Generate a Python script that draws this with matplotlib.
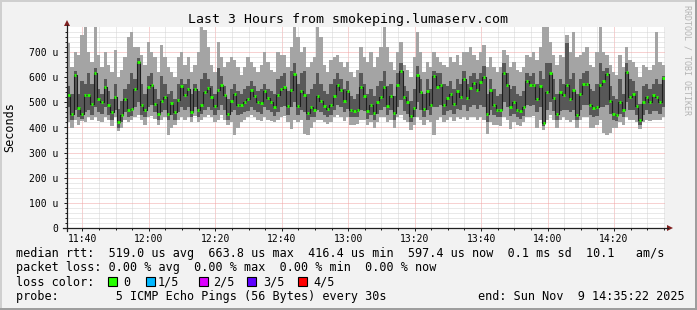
import numpy as np
import matplotlib.pyplot as plt
from matplotlib.lines import Line2D
from matplotlib.patches import Polygon, Rectangle

plt.rcParams['font.family'] = 'DejaVu Sans Mono'

# 180 samples, one per minute, from 11:35:22 to 14:35:22 (values in microseconds)
start_min = 11 * 60 + 35 + 22 / 60.0

rtt_median = [
    531, 452, 608, 478, 455, 530, 528, 493, 615, 513,
    500, 560, 489, 462, 522, 422, 449, 513, 470, 475,
    555, 660, 489, 470, 562, 571, 495, 455, 505, 522,
    455, 499, 460, 509, 565, 528, 555, 460, 552, 469,
    489, 540, 558, 520, 486, 550, 568, 528, 452, 507,
    535, 490, 490, 502, 515, 548, 525, 502, 499, 545,
    518, 502, 482, 530, 552, 560, 486, 548, 611, 486,
    545, 530, 456, 480, 470, 526, 505, 486, 473, 491,
    527, 570, 550, 504, 545, 470, 467, 470, 560, 525,
    465, 491, 456, 502, 522, 562, 485, 526, 458, 568,
    624, 520, 500, 447, 478, 608, 540, 473, 545, 489,
    605, 560, 571, 490, 518, 535, 495, 545, 520, 595,
    518, 558, 579, 548, 580, 600, 455, 548, 491, 469,
    469, 615, 570, 482, 500, 469, 465, 482, 584, 570,
    571, 515, 565, 416, 540, 615, 518, 455, 540, 530,
    568, 513, 548, 450, 535, 575, 575, 490, 478, 480,
    568, 584, 611, 505, 452, 449, 502, 469, 621, 520,
    535, 486, 429, 500, 522, 500, 530, 520, 500, 597,
]

# 2nd fastest ping
ping2 = [
    480, 430, 470, 440, 435, 460, 470, 450, 480, 460,
    455, 480, 450, 430, 470, 400, 420, 460, 440, 445,
    480, 500, 450, 440, 480, 490, 460, 430, 460, 470,
    430, 450, 430, 460, 480, 470, 480, 440, 480, 440,
    455, 470, 480, 470, 450, 470, 490, 470, 430, 460,
    470, 450, 455, 460, 465, 480, 470, 460, 455, 480,
    470, 460, 445, 460, 480, 485, 450, 480, 500, 450,
    470, 460, 430, 440, 440, 470, 460, 450, 440, 450,
    470, 490, 480, 460, 475, 440, 440, 440, 470, 465,
    435, 450, 430, 455, 470, 480, 450, 470, 430, 480,
    510, 465, 455, 420, 440, 500, 470, 440, 470, 450,
    480, 480, 490, 450, 465, 470, 455, 475, 470, 490,
    465, 480, 490, 475, 490, 480, 420, 470, 450, 440,
    440, 500, 480, 445, 455, 440, 435, 445, 490, 485,
    490, 460, 480, 405, 470, 500, 465, 430, 465, 470,
    470, 460, 470, 430, 470, 490, 490, 450, 440, 445,
    480, 480, 490, 455, 430, 425, 455, 440, 500, 470,
    470, 450, 410, 450, 470, 455, 465, 465, 455, 480,
]

# 4th ping
ping4 = [
    565, 535, 625, 535, 585, 575, 615, 575, 635, 555,
    535, 595, 545, 515, 575, 475, 505, 555, 575, 615,
    595, 675, 575, 535, 605, 615, 555, 515, 605, 575,
    535, 545, 515, 575, 595, 575, 595, 535, 575, 545,
    595, 615, 595, 565, 535, 635, 605, 565, 515, 555,
    575, 545, 535, 555, 565, 585, 565, 545, 555, 575,
    555, 545, 535, 595, 605, 615, 545, 625, 655, 575,
    615, 625, 535, 555, 575, 615, 575, 545, 535, 575,
    595, 615, 595, 555, 585, 525, 515, 535, 615, 575,
    535, 555, 525, 565, 585, 625, 565, 575, 525, 615,
    655, 565, 545, 505, 555, 645, 595, 535, 595, 555,
    625, 615, 615, 575, 565, 585, 555, 595, 575, 625,
    575, 605, 615, 595, 615, 645, 535, 595, 555, 525,
    535, 655, 615, 555, 565, 535, 525, 545, 615, 605,
    615, 575, 625, 595, 655, 655, 595, 535, 595, 575,
    735, 595, 615, 535, 595, 615, 625, 555, 545, 575,
    655, 625, 635, 565, 525, 515, 595, 535, 655, 595,
    585, 545, 495, 565, 575, 555, 575, 595, 575, 605,
]

# fastest ping
ping1 = [
    420, 400, 430, 410, 425, 420, 440, 430, 440, 425,
    420, 440, 430, 405, 440, 385, 400, 430, 420, 430,
    440, 450, 430, 410, 440, 445, 435, 410, 430, 440,
    370, 400, 410, 430, 440, 430, 440, 420, 445, 420,
    430, 440, 450, 440, 420, 430, 450, 430, 410, 420,
    370, 400, 420, 430, 440, 450, 440, 430, 425, 440,
    430, 425, 420, 430, 440, 445, 420, 395, 430, 420,
    430, 375, 370, 400, 420, 430, 430, 420, 415, 420,
    440, 450, 440, 425, 440, 410, 410, 415, 430, 430,
    410, 420, 400, 420, 440, 440, 420, 430, 400, 440,
    450, 430, 420, 390, 410, 440, 430, 410, 430, 420,
    370, 430, 440, 420, 430, 440, 425, 440, 435, 440,
    430, 440, 440, 430, 440, 430, 375, 420, 410, 410,
    405, 440, 430, 395, 420, 410, 405, 420, 440, 440,
    445, 400, 430, 390, 430, 450, 430, 400, 430, 440,
    430, 420, 430, 400, 430, 440, 440, 400, 400, 410,
    430, 380, 370, 380, 400, 400, 420, 410, 440, 430,
    430, 420, 395, 420, 430, 425, 430, 430, 430, 440,
]

# slowest ping
ping5 = [
    735, 640, 700, 690, 770, 800, 700, 660, 800, 690,
    640, 700, 650, 620, 710, 600, 630, 680, 760, 780,
    720, 720, 690, 650, 740, 700, 680, 620, 730, 680,
    640, 620, 600, 680, 700, 650, 680, 620, 650, 700,
    800, 790, 720, 650, 620, 740, 680, 640, 660, 680,
    670, 640, 610, 640, 680, 660, 640, 620, 650, 700,
    660, 630, 620, 700, 690, 690, 640, 720, 800, 760,
    700, 720, 640, 660, 680, 800, 760, 650, 620, 670,
    680, 690, 660, 640, 660, 620, 600, 630, 720, 680,
    660, 700, 640, 680, 720, 800, 720, 660, 630, 700,
    740, 650, 630, 600, 680, 780, 700, 620, 660, 640,
    700, 680, 660, 650, 640, 680, 660, 690, 650, 700,
    700, 720, 690, 670, 700, 730, 640, 680, 640, 620,
    640, 710, 690, 640, 660, 630, 620, 640, 690, 680,
    700, 670, 720, 800, 800, 740, 690, 650, 690, 680,
    770, 700, 780, 680, 690, 700, 720, 650, 640, 700,
    800, 700, 690, 650, 620, 610, 690, 640, 720, 670,
    660, 640, 600, 650, 640, 630, 650, 780, 660, 650,
]

x_ticks = [700, 720, 740, 760, 780, 800, 820, 840, 860]
x_labels = ['11:40', '12:00', '12:20', '12:40', '13:00', '13:20', '13:40', '14:00', '14:20']
y_ticks = [0, 100, 200, 300, 400, 500, 600, 700]
y_labels = ['0', '100 u', '200 u', '300 u', '400 u', '500 u', '600 u', '700 u']

loss_labels = ['0', '1/5', '2/5', '3/5', '4/5']
loss_colors = ['#26ff00', '#00b8ff', '#dd00ff', '#5e00ff', '#ff0000']

W, H = 697, 310


def P(x, y):
    return x / W, 1 - y / H


def fig_line(x0, y0, x1, y1, color, lw):
    a, b = P(x0, y0)
    c, d = P(x1, y1)
    fig.add_artist(Line2D([a, c], [b, d], color=color, lw=lw, transform=fig.transFigure))


fig = plt.figure(figsize=(W / 100, H / 100), dpi=100, facecolor='#f2f2f2')
ax = fig.add_axes([67 / W, 1 - 228 / H, 598 / W, 201 / H])
ax.set_facecolor('white')
for s in ax.spines.values():
    s.set_visible(False)

n = len(rtt_median)
edges = start_min + np.arange(n + 1)


def ext(v):
    return np.append(v, v[-1])


ax.fill_between(edges, ext(ping1), ext(ping5), step='post', color='#a4a4a4', lw=0, zorder=2)
ax.fill_between(edges, ext(ping2), ext(ping4), step='post', color='#585858', lw=0, zorder=3)
ax.step(edges, ext(rtt_median), where='post', color='#1e1e1e', lw=0.8, zorder=4)
ax.hlines(rtt_median, edges[:-1] + 0.15, edges[1:] - 0.15, color=loss_colors[0], lw=2.0, zorder=5)

ax.set_xlim(edges[0], edges[-1])
ax.set_ylim(0, 800)
ax.set_xticks(x_ticks)
ax.set_xticklabels(x_labels)
ax.set_xticks(np.arange(700, 876, 5), minor=True)
ax.set_yticks(y_ticks)
ax.set_yticklabels(y_labels)
ax.set_yticks(np.arange(0, 800, 20), minor=True)

ax.set_axisbelow(True)
ax.grid(which='minor', color='#d4d4d4', ls=(0, (1, 1)), lw=0.72)
ax.grid(which='major', color='#f0a4a4', ls=(0, (1, 1)), lw=0.72)
ax.tick_params(which='both', direction='out', color='#1f1f1f', width=0.72, labelsize=7)
ax.tick_params(which='major', length=2.5)
ax.tick_params(which='minor', length=1.5)
ax.tick_params(axis='x', which='major', pad=2)
ax.tick_params(axis='y', which='major', pad=3.5)

# axes with arrows
fig_line(67, 231, 67, 25, '#1f1f1f', 0.9)
fig_line(63, 228, 668, 228, '#1f1f1f', 0.9)
fig.add_artist(Polygon([P(64, 26), P(70, 26), P(67, 20)], closed=True,
                       transform=fig.transFigure, color='#801f1f', lw=0))
fig.add_artist(Polygon([P(667, 225), P(667, 231), P(673, 228)], closed=True,
                       transform=fig.transFigure, color='#801f1f', lw=0))

# shaded frame
fig_line(0, 1, W, 1, '#cfcfcf', 1.44)
fig_line(1, 0, 1, H, '#cfcfcf', 1.44)
fig_line(0, H - 1, W, H - 1, '#9e9e9e', 1.44)
fig_line(W - 1, 0, W - 1, H, '#9e9e9e', 1.44)

fig.text(*P(347.5, 19.5), 'Last 3 Hours from smokeping.lumaserv.com',
         ha='center', va='center', fontsize=9.5)
fig.text(*P(10, 127), 'Seconds', rotation=90, ha='center', va='center', fontsize=8.5)
fig.text(*P(687, 5), 'RRDTOOL / TOBI OETIKER', rotation=270, ha='center', va='top',
         fontsize=6, color='#b4b4b4')

fs = 8.5
fig.text(*P(16, 254), 'median rtt:  519.0 us avg  663.8 us max  416.4 us min  '
         '597.4 us now  0.1 ms sd  10.1   am/s', ha='left', va='center', fontsize=fs)
fig.text(*P(16, 268), 'packet loss: 0.00 % avg  0.00 % max  0.00 % min  0.00 % now',
         ha='left', va='center', fontsize=fs)
fig.text(*P(16, 282), 'loss color:', ha='left', va='center', fontsize=fs)
box_x = [108, 146, 199, 247, 298]
lab_x = [123, 158, 213, 263, 313]
for bx, lx, lab, col in zip(box_x, lab_x, loss_labels, loss_colors):
    fig.add_artist(Rectangle(P(bx, 286), 8.5 / W, 9 / H, transform=fig.transFigure,
                             facecolor=col, edgecolor='black', lw=0.8))
    fig.text(*P(lx, 282), lab, ha='left', va='center', fontsize=fs)
fig.text(*P(16, 296.5), 'probe:        5 ICMP Echo Pings (56 Bytes) every 30s',
         ha='left', va='center', fontsize=fs)
fig.text(*P(478, 296.5), 'end: Sun Nov  9 14:35:22 2025', ha='left', va='center', fontsize=fs)

fig.savefig('out.png', dpi=100, facecolor=fig.get_facecolor())
